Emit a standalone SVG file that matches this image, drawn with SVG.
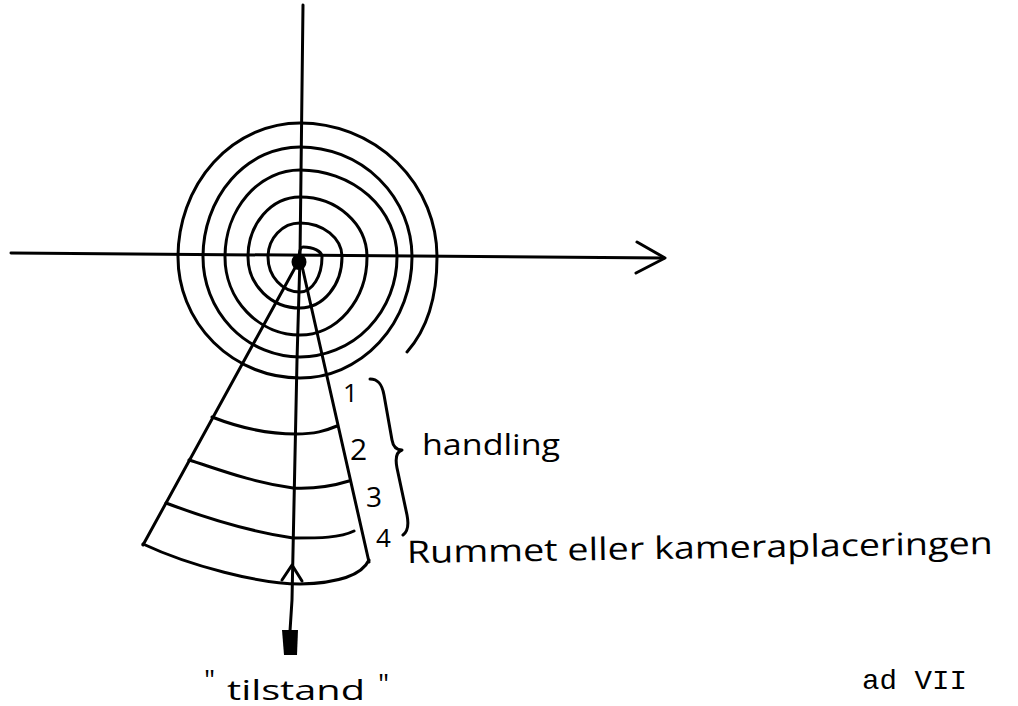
<svg xmlns="http://www.w3.org/2000/svg" width="1018" height="706" viewBox="0 0 1018 706">
<style>
.ln{fill:none;stroke:#000;stroke-width:3;stroke-linecap:round;stroke-linejoin:round}
.hw{font-family:"Open Sans","Liberation Sans",sans-serif;fill:#000}
.tt{font-family:"Liberation Mono","DejaVu Sans Mono",monospace;fill:#000}
</style>
<rect width="1018" height="706" fill="#fff"/>
<g id="connectors">
  <g id="axis-x">
    <path class="ln" d="M 11 253 L 664 258"/>
    <path class="ln" d="M 637 242 L 665 258 L 636 273"/>
  </g>
  <g id="axis-y">
    <path class="ln" d="M 303 5 L 300 257 L 297 360 L 292 600 L 290 631"/>
    <path class="ln" d="M 282 580 L 292 565 L 302 581"/>
    <polygon points="282,630 298,630 297,655 284,655" fill="#000"/>
  </g>
</g>
<g id="spiral">
  <path class="ln" d="M 299 259 C 299 252 300 247 303 247 A 19 10 0 0 1 322 257 A 22 35 0 0 1 300 292 A 32 35 0 0 1 268 257 A 32 34 0 0 1 300 223 A 42 34 0 0 1 342 257 A 42 51 0 0 1 300 308 A 52 51 0 0 1 248 257 A 52 60 0 0 1 300 197 A 67 60 0 0 1 367 257 A 67 78 0 0 1 300 335 A 75 78 0 0 1 225 257 A 75 87 0 0 1 300 170 A 97 87 0 0 1 397 257 A 97 100 0 0 1 300 357 A 97 100 0 0 1 203 257 A 97 110 0 0 1 300 147 A 112 110 0 0 1 412 257 A 112 121 0 0 1 300 378 A 122 121 0 0 1 178 257 A 122 134 0 0 1 300 123 A 137 134 0 0 1 437 257 C 437 292 430 326 407 352"/>
  <ellipse cx="299" cy="262" rx="7.5" ry="8" fill="#000"/>
</g>
<g id="fan">
  <path class="ln" d="M 296 266 L 143 545"/>
  <path class="ln" d="M 302 266 L 369 562"/>
  <path class="ln" d="M 212 417 C 240 428 270 434 296 434 C 315 434 325 431 337 426"/>
  <path class="ln" d="M 189 460 C 215 468 250 482 293 488 C 315 489 333 486 349 481"/>
  <path class="ln" d="M 166 503 C 195 514 240 530 293 538 C 320 538 340 538 354 531"/>
  <path class="ln" d="M 143 544 C 190 566 260 584 300 584 C 340 583 362 575 369 560"/>
</g>
<g id="levels">
  <text class="hw" x="343" y="402" font-size="26">1</text>
  <text class="hw" x="350" y="460" font-size="30">2</text>
  <text class="hw" x="366" y="507" font-size="28">3</text>
  <text class="hw" x="376" y="547" font-size="26">4</text>
  <path class="ln" d="M 370 379 C 378 379 382 384 384 395 L 392 440 C 393 446 396 450 402 450 C 396 452 395 458 397 468 L 407 515 C 409 525 407 532 403 535" stroke-width="2.5"/>
</g>
<g id="label-handling">
  <text class="hw" x="422" y="455" font-size="30" textLength="138" lengthAdjust="spacingAndGlyphs">handling</text>
</g>
<g id="label-rummet">
  <text class="hw" x="407" y="563" font-size="31" textLength="586" lengthAdjust="spacingAndGlyphs" transform="rotate(-0.9 407 563)">Rummet eller kameraplaceringen</text>
</g>
<g id="label-tilstand">
  <text class="hw" font-size="28"><tspan x="204" y="690">"</tspan><tspan x="227" y="700" textLength="138" lengthAdjust="spacingAndGlyphs">tilstand</tspan><tspan x="378" y="694">"</tspan></text>
</g>
<g id="label-ad">
  <text class="tt" x="862" y="689" font-size="28" textLength="105" lengthAdjust="spacingAndGlyphs">ad VII</text>
</g>
</svg>
